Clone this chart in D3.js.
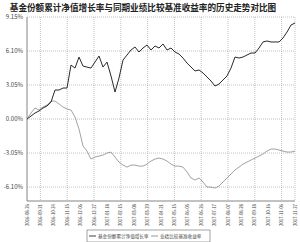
<!DOCTYPE html>
<html>
<head>
<meta charset="utf-8">
<script src="https://cdn.jsdelivr.net/npm/d3@7"></script>
<style>
  body { margin: 0; background: #fff; }
  svg { display: block; }
  .grid line { stroke: #999; stroke-dasharray: 1,1; stroke-width: 0.6; }
  .lbl { font-family: "Noto Sans CJK SC", sans-serif; fill: #444; }
</style>
</head>
<body>
<div id="chart"></div>
<script>
var title = '基金份额累计净值增长率与同期业绩比较基准收益率的历史走势对比图';
var seriesNames = ['基金份额累计净值增长率', '业绩比较基准收益率'];

var dateLabels = ['2016-08-26', '2016-09-21', '2016-10-24', '2016-11-15', '2016-12-06',
  '2016-12-27', '2017-01-18', '2017-02-15', '2017-03-08', '2017-03-29', '2017-04-21',
  '2017-05-15', '2017-06-05', '2017-06-26', '2017-07-17', '2017-08-07', '2017-08-28',
  '2017-09-18', '2017-10-16', '2017-11-06', '2017-11-27'];

var yTicks = [9.15, 6.10, 3.05, 0.00, -3.05, -6.10];
var yTickLabels = ['9.15%', '6.10%', '3.05%', '0.00%', '-3.05%', '-6.10%'];

// 基金份额累计净值增长率 (%)
var fundValues = [0.00, 0.27, 0.54, 0.72, 0.99, 1.17, 1.52, 2.60, 2.60, 2.78,
  2.78, 4.84, 4.57, 5.56, 4.75, 4.66, 4.57, 5.11, 5.65, 4.66,
  5.11, 3.86, 2.42, 3.68, 5.29, 5.74, 6.19, 6.46, 6.01, 6.37,
  6.64, 6.19, 6.55, 6.37, 6.73, 6.19, 6.37, 6.01, 5.83, 5.47,
  5.02, 4.66, 4.31, 4.40, 4.13, 3.77, 3.41, 2.96, 3.14, 3.50,
  3.86, 4.57, 5.56, 5.47, 5.56, 5.74, 5.92, 5.92, 6.37, 6.91,
  7.00, 6.91, 6.91, 6.91, 7.27, 7.80, 8.43, 8.61];

// 业绩比较基准收益率 (%)
var benchValues = [0.00, 0.54, 0.99, 0.81, 1.08, 1.26, 1.61, 1.61, 1.35, 1.08,
  0.90, 0.81, 0.18, -0.90, -2.42, -2.87, -3.59, -3.41, -3.32, -3.23,
  -3.05, -2.96, -3.41, -3.86, -4.13, -4.31, -4.13, -4.13, -4.22, -4.22,
  -4.04, -3.77, -3.59, -3.50, -3.59, -3.77, -4.04, -4.22, -4.22, -4.31,
  -4.75, -5.29, -5.47, -5.29, -5.65, -6.10, -6.10, -6.19, -6.01, -5.65,
  -5.29, -4.93, -4.57, -4.31, -4.04, -3.86, -3.68, -3.50, -3.32, -3.14,
  -2.87, -2.69, -2.69, -2.78, -2.87, -2.96, -2.96, -2.87];

var width = 300, height = 242;
var margin = {top: 17, right: 5, bottom: 41, left: 27};
var x0 = margin.left, x1 = width - margin.right;
var y0 = margin.top, y1 = height - margin.bottom;

var svg = d3.select('#chart').append('svg')
  .attr('width', width)
  .attr('height', height);

var x = d3.scaleLinear().domain([0, fundValues.length - 1]).range([x0, x1]);
var xLab = d3.scaleLinear().domain([0, dateLabels.length - 1]).range([x0, x1]);
var y = d3.scaleLinear().domain([-7.35, 9.15]).range([y1, y0]);

// title
svg.append('text')
  .attr('x', 143)
  .attr('y', 10.5)
  .attr('text-anchor', 'middle')
  .style('font-family', '"Noto Sans CJK SC", sans-serif')
  .style('font-weight', 'bold')
  .style('font-size', '8.6px')
  .style('fill', '#222')
  .text(title);

// grid
var grid = svg.append('g').attr('class', 'grid');
grid.selectAll('.hg').data(yTicks).enter().append('line')
  .attr('x1', x0).attr('x2', x1)
  .attr('y1', function(d) { return y(d); })
  .attr('y2', function(d) { return y(d); });
grid.selectAll('.vg').data(dateLabels.filter(function(d, i) { return i % 2 === 1 || i === dateLabels.length - 1; }))
  .enter().append('line')
  .attr('x1', function(d) { return xLab(dateLabels.indexOf(d)); })
  .attr('x2', function(d) { return xLab(dateLabels.indexOf(d)); })
  .attr('y1', y0).attr('y2', y1);

// axes
svg.append('line').attr('x1', x0).attr('x2', x0).attr('y1', y0).attr('y2', y1)
  .attr('stroke', '#666').attr('stroke-width', 0.8);
svg.append('line').attr('x1', x0).attr('x2', x1).attr('y1', y1).attr('y2', y1)
  .attr('stroke', '#666').attr('stroke-width', 0.8);

svg.selectAll('.ylab').data(yTicks).enter().append('text')
  .attr('class', 'lbl')
  .attr('x', x0 - 4)
  .attr('y', function(d) { return y(d) + 2; })
  .attr('text-anchor', 'end')
  .style('font-size', '6px')
  .text(function(d, i) { return yTickLabels[i]; });

svg.selectAll('.xlab').data(dateLabels).enter().append('text')
  .attr('class', 'lbl')
  .attr('transform', function(d, i) { return 'translate(' + (xLab(i) + 1.5) + ',' + (y1 + 3) + ') rotate(-90)'; })
  .attr('text-anchor', 'end')
  .style('font-size', '4.3px')
  .text(function(d) { return d; });

// lines
var line = d3.line()
  .x(function(d, i) { return x(i); })
  .y(function(d) { return y(d); });

svg.append('path').datum(benchValues)
  .attr('d', line)
  .attr('fill', 'none')
  .attr('stroke', '#8a8a8a')
  .attr('stroke-width', 0.8);

svg.append('path').datum(fundValues)
  .attr('d', line)
  .attr('fill', 'none')
  .attr('stroke', '#2a2a2a')
  .attr('stroke-width', 1);

// legend
var lg = svg.append('g').attr('transform', 'translate(87,230)');
lg.append('rect').attr('width', 123).attr('height', 12)
  .attr('fill', '#fff').attr('stroke', '#666').attr('stroke-width', 0.6);
var items = [{x: 2, color: '#2a2a2a'}, {x: 64, color: '#8a8a8a'}];
items.forEach(function(it, i) {
  lg.append('line').attr('x1', it.x).attr('x2', it.x + 7).attr('y1', 6).attr('y2', 6)
    .attr('stroke', it.color).attr('stroke-width', 0.9);
  lg.append('text').attr('class', 'lbl')
    .attr('x', it.x + 9).attr('y', 7.6)
    .style('font-size', '4.6px')
    .text(seriesNames[i]);
});
</script>
</body>
</html>
